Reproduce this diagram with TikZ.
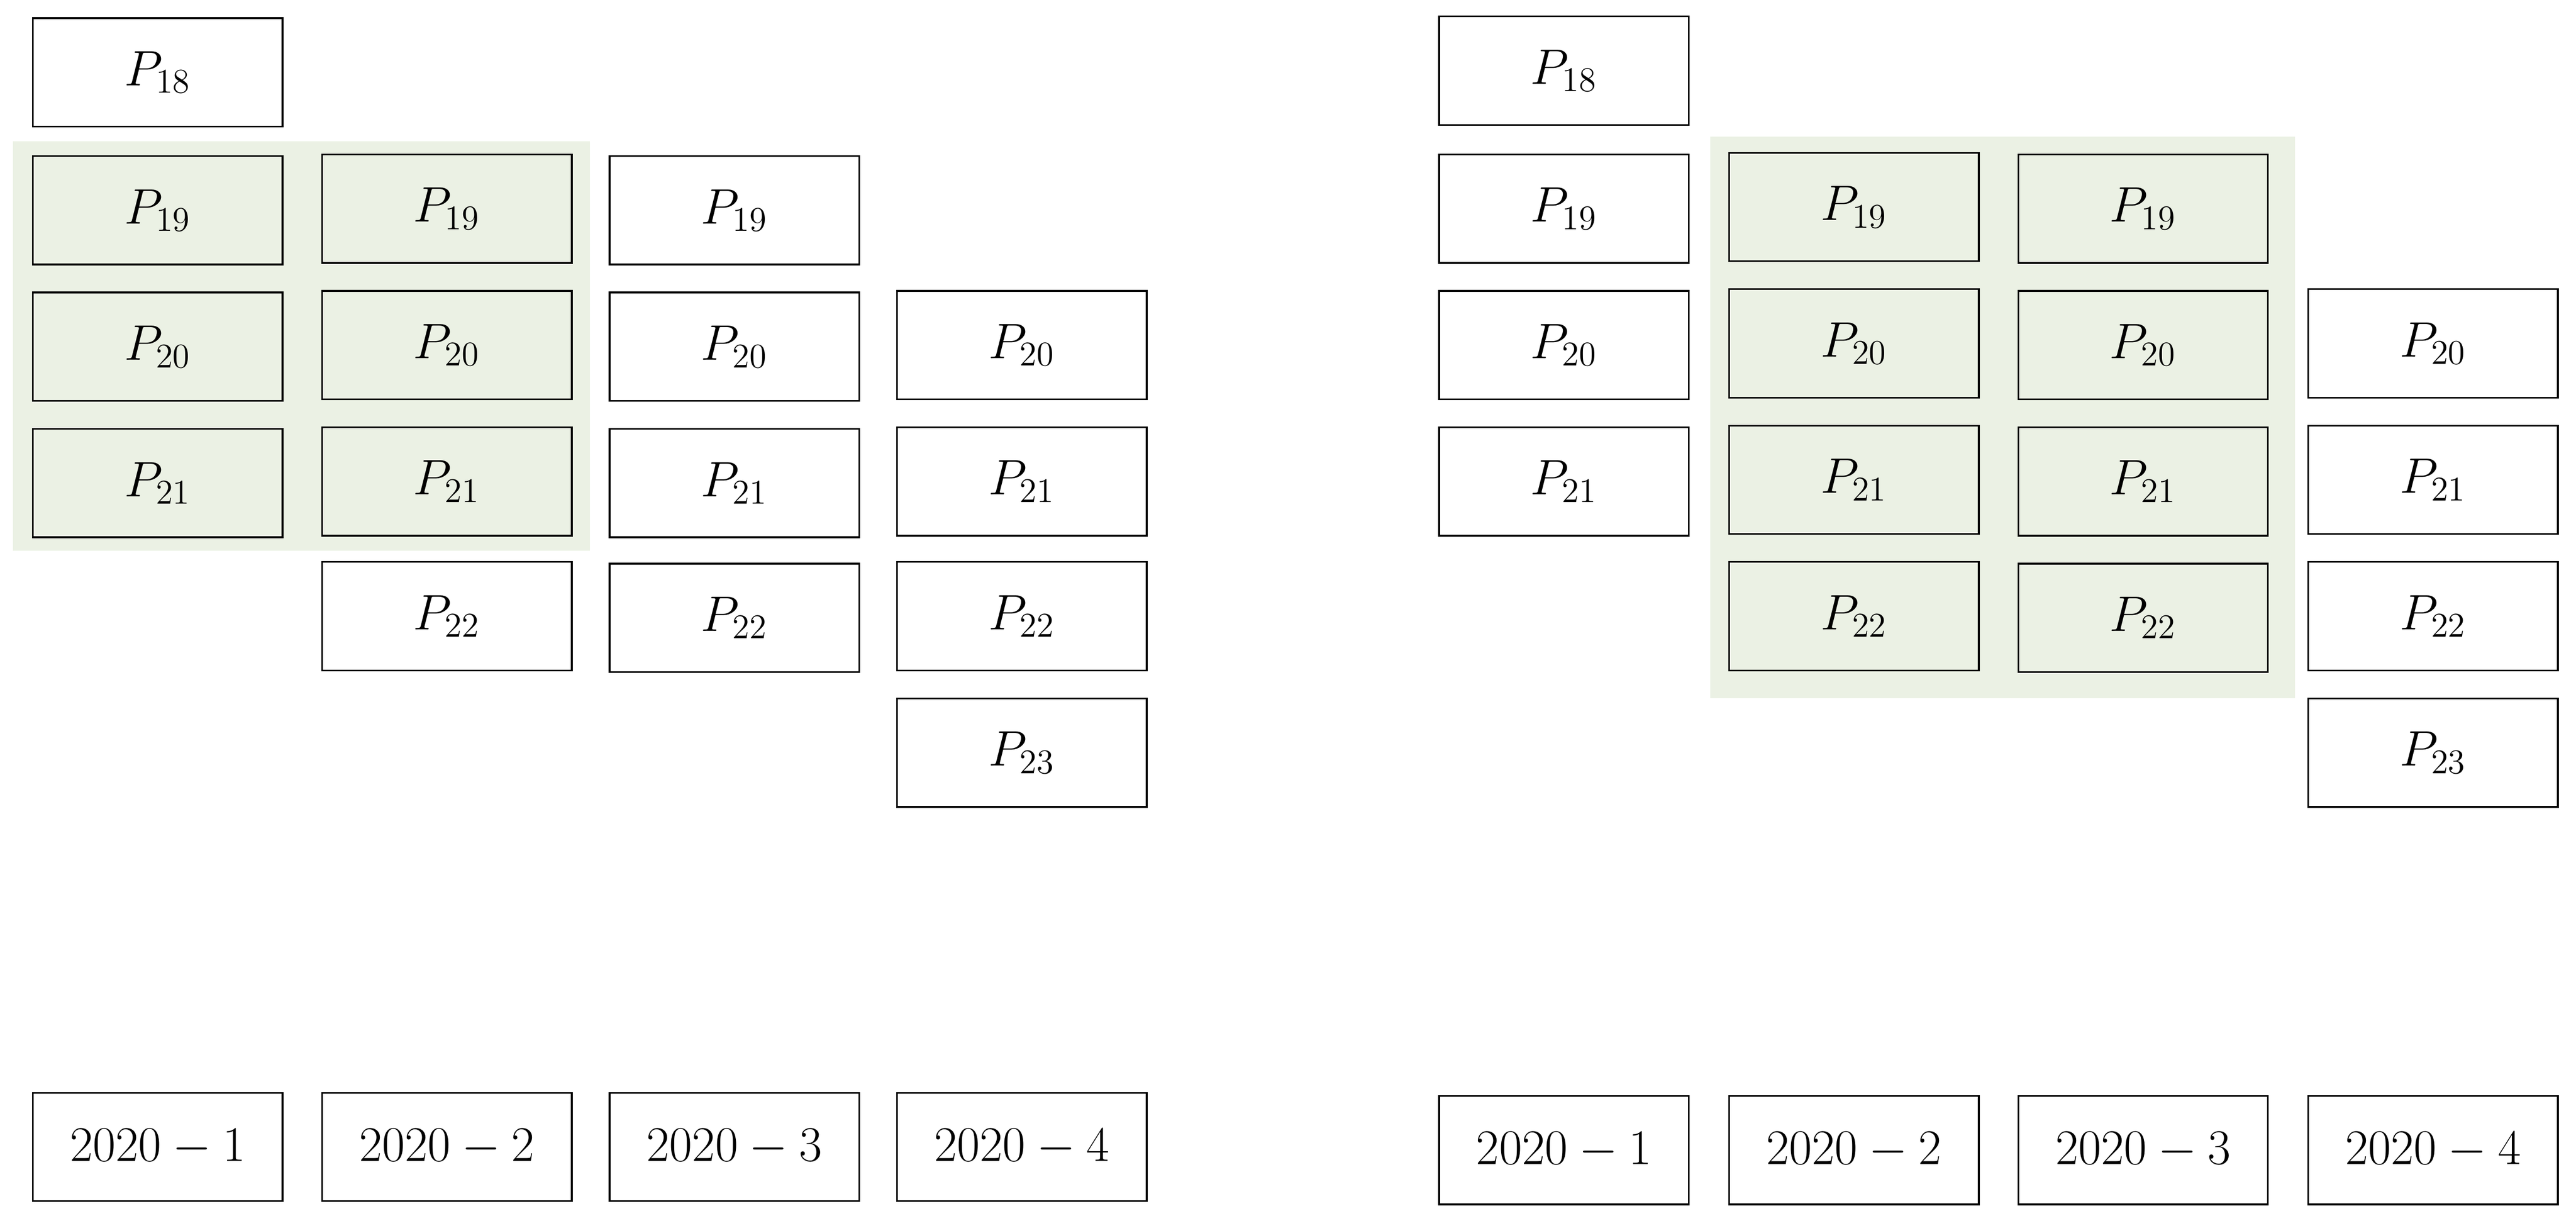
\documentclass[tikz,border=0pt]{standalone}
\usepackage{amsmath}
\usepackage{tikz}
\usepackage{xcolor}
\usetikzlibrary{positioning}
\definecolor{bggreen}{RGB}{235,241,228}

\begin{document}
\begin{tikzpicture}[cell/.style={rectangle, draw=black, line width=0.6pt, minimum width=3.04cm, minimum height=1.32cm, inner sep=0pt, font=\fontsize{17}{20}\selectfont}]
            \useasboundingbox (0, 0) rectangle (31.36, -14.86);
            % shaded windows
            \fill[bggreen] (0.16, -1.72) rectangle (7.18, -6.70);
            \fill[bggreen] (20.82, -1.66) rectangle (27.94, -8.50);

            % left panel
            \node[cell] (l118) at (1.92, -0.88) {$P_{18}$};
            \node[cell] (l119) at (1.92, -2.56) {$P_{19}$};
            \node[cell] (l120) at (1.92, -4.22) {$P_{20}$};
            \node[cell] (l121) at (1.92, -5.88) {$P_{21}$};
            \node[cell] (l219) at (5.44, -2.54) {$P_{19}$};
            \node[cell] (l220) at (5.44, -4.20) {$P_{20}$};
            \node[cell] (l221) at (5.44, -5.86) {$P_{21}$};
            \node[cell] (l222) at (5.44, -7.50) {$P_{22}$};
            \node[cell] (l319) at (8.94, -2.56) {$P_{19}$};
            \node[cell] (l320) at (8.94, -4.22) {$P_{20}$};
            \node[cell] (l321) at (8.94, -5.88) {$P_{21}$};
            \node[cell] (l322) at (8.94, -7.52) {$P_{22}$};
            \node[cell] (l420) at (12.44, -4.20) {$P_{20}$};
            \node[cell] (l421) at (12.44, -5.86) {$P_{21}$};
            \node[cell] (l422) at (12.44, -7.50) {$P_{22}$};
            \node[cell] (l423) at (12.44, -9.16) {$P_{23}$};
            \node[cell] (lq1) at (1.92, -13.96) {$2020-1$};
            \node[cell] (lq2) at (5.44, -13.96) {$2020-2$};
            \node[cell] (lq3) at (8.94, -13.96) {$2020-3$};
            \node[cell] (lq4) at (12.44, -13.96) {$2020-4$};

            % right panel
            \node[cell] (r118) at (19.04, -0.86) {$P_{18}$};
            \node[cell] (r119) at (19.04, -2.54) {$P_{19}$};
            \node[cell] (r120) at (19.04, -4.20) {$P_{20}$};
            \node[cell] (r121) at (19.04, -5.86) {$P_{21}$};
            \node[cell] (r219) at (22.57, -2.52) {$P_{19}$};
            \node[cell] (r220) at (22.57, -4.18) {$P_{20}$};
            \node[cell] (r221) at (22.57, -5.84) {$P_{21}$};
            \node[cell] (r222) at (22.57, -7.50) {$P_{22}$};
            \node[cell] (r319) at (26.09, -2.54) {$P_{19}$};
            \node[cell] (r320) at (26.09, -4.20) {$P_{20}$};
            \node[cell] (r321) at (26.09, -5.86) {$P_{21}$};
            \node[cell] (r322) at (26.09, -7.52) {$P_{22}$};
            \node[cell] (r420) at (29.62, -4.18) {$P_{20}$};
            \node[cell] (r421) at (29.62, -5.84) {$P_{21}$};
            \node[cell] (r422) at (29.62, -7.50) {$P_{22}$};
            \node[cell] (r423) at (29.62, -9.16) {$P_{23}$};
            \node[cell] (rq1) at (19.04, -14.00) {$2020-1$};
            \node[cell] (rq2) at (22.57, -14.00) {$2020-2$};
            \node[cell] (rq3) at (26.09, -14.00) {$2020-3$};
            \node[cell] (rq4) at (29.62, -14.00) {$2020-4$};
        \end{tikzpicture}
\end{document}
